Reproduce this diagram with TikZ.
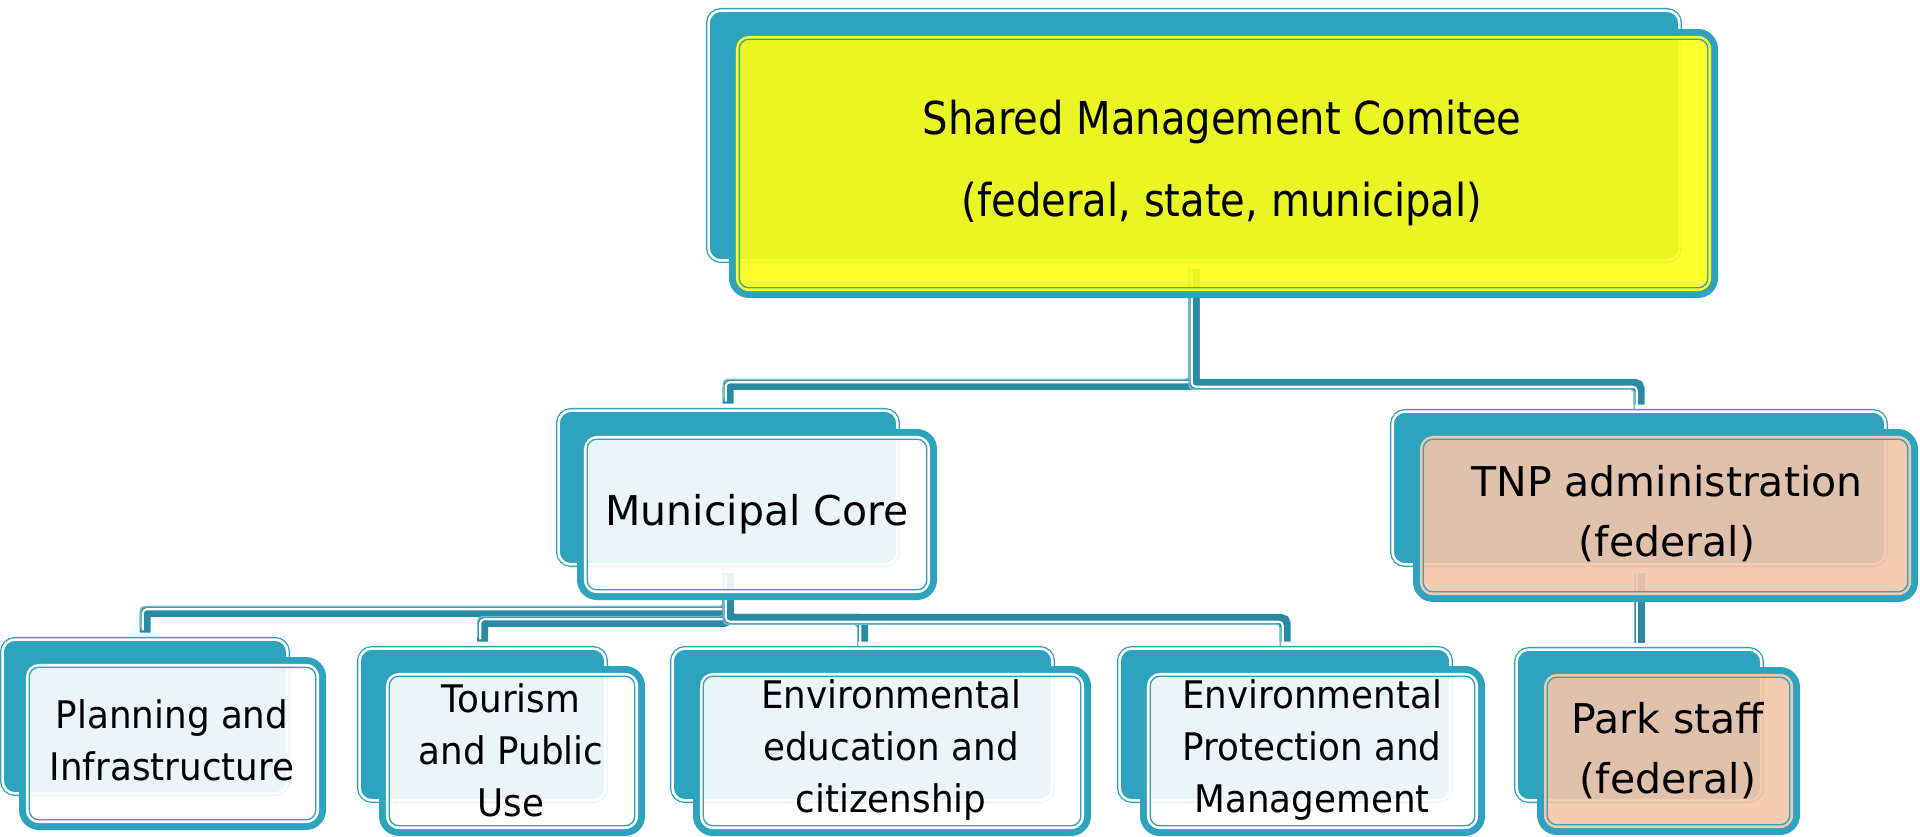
\documentclass[tikz,border=0pt]{standalone}
\usepackage{fontspec}
\setmainfont{DejaVu Sans}
\newfontfamily\titlefont[FakeStretch=0.885]{DejaVu Sans}
\newfontfamily\leaffont[FakeStretch=0.94]{DejaVu Sans}

\definecolor{boxteal}{RGB}{46,163,192}
\definecolor{linkteal}{RGB}{40,138,163}
\definecolor{linkedge}{RGB}{110,188,208}
\definecolor{topfill}{RGB}{255,255,20}
\definecolor{corefill}{RGB}{255,255,255}
\definecolor{fedfill}{RGB}{244,198,170}

% back card of a unit: teal card with a thin white inner rim
\newcommand\backunit[5]{%
  \node[backbox, minimum width={(#4-#2-5.1)*0.75pt}, minimum height={(#5-#3-5.1)*0.75pt}]
    (#1) at ({(#2+#4)/2},{(#3+#5)/2}) {};}

% front card: translucent face, thick teal frame, light rim, thin teal line
\newcommand\frontframe[5]{%
  \fill[#5, fill opacity=0.9, rounded corners=9pt] ({#1+8},{#2+8}) rectangle ({#3-8},{#4-8});
  \draw[boxteal, line width=5.25pt, rounded corners=12.4pt] ({#1+3.5},{#2+3.5}) rectangle ({#3-3.5},{#4-3.5});
  \draw[#5, line width=1.9pt, rounded corners=8.8pt] ({#1+8.25},{#2+8.25}) rectangle ({#3-8.25},{#4-8.25});
  \draw[boxteal, line width=1pt, rounded corners=7.3pt] ({#1+10.2},{#2+10.2}) rectangle ({#3-10.2},{#4-10.2});}

% elbow connector: teal band with an offset white highlight and light edge
\newcommand\link[3]{%
  \draw[linkbase] #1;
  \draw[linkhi, transform canvas={shift={({2.25*(#2)},{2.25*(#3)})}}] #1;
  \draw[linkrim, transform canvas={shift={({4.75*(#2)},{4.75*(#3)})}}] #1;}

\begin{document}
\begin{tikzpicture}[x=0.75pt,y=-0.75pt,
  backbox/.style={fill=boxteal, draw=boxteal, double=white, line width=1pt,
    double distance=1.9pt, rounded corners=9.4pt, inner sep=0pt, outer sep=0pt},
  linkcommon/.style={shorten <=6.5pt, shorten >=5.25pt, rounded corners=3pt},
  linkbase/.style={linkcommon, draw=linkteal, line width=8.25pt},
  linkhi/.style={linkcommon, draw=white, line width=1.6pt},
  linkrim/.style={linkcommon, draw=linkedge, line width=1.1pt},
  unittext/.style={align=center, text=black, inner sep=0pt},
  bigtext/.style={unittext, font=\titlefont\fontsize{34pt}{61.5pt}\selectfont},
  midtext/.style={unittext, font=\fontsize{30.75pt}{45pt}\selectfont},
  leaftext/.style={unittext, font=\leaffont\fontsize{28.5pt}{39pt}\selectfont}]

\useasboundingbox (0,0) rectangle (1920,836);

% back cards
\backunit{topB}{706}{8}{1682}{263}
\backunit{munB}{556}{408}{900}{567}
\backunit{tnpB}{1390}{409}{1888}{567}
\backunit{parkB}{1514}{647}{1764}{803}
\backunit{planB}{0}{637}{290}{796}
\backunit{tourB}{357}{646}{608}{803}
\backunit{eduB}{670}{646}{1055}{803}
\backunit{protB}{1117}{646}{1453}{803}

% hierarchy connectors
\link{(topB.south) -- ++(0,124) -| (munB.north)}{-1}{-1}
\link{(topB.south) -- ++(0,124) -| (tnpB.north)}{-1}{1}
\link{(munB.south) -- ++(0,47) -| (planB.north)}{-1}{-1}
\link{(munB.south) -- ++(0,57) -| (tourB.north)}{-1}{-1}
\link{(munB.south) -- ++(0,55) -| (eduB.north)}{-1}{1}
\link{(munB.south) -- ++(0,55) -| (protB.north)}{-1}{1}
\link{(tnpB.south) -- (parkB.north)}{-1}{0}

% front cards and their labels
\frontframe{729}{29}{1718}{298}{topfill}
\node[bigtext] (top) at (1222,163) {Shared Management Comitee\\(federal, state, municipal)};

\frontframe{577}{429}{937}{600}{corefill}
\node[midtext] (mun) at (757,514) {Municipal Core};

\frontframe{1413}{429}{1918}{602}{fedfill}
\node[midtext] (tnp) at (1667,514) {TNP administration\\(federal)};

\frontframe{1537}{667}{1800}{835}{fedfill}
\node[midtext] (park) at (1668,751) {Park staff\\(federal)};

\frontframe{19}{657}{326}{830}{corefill}
\node[leaftext] (plan) at (172,740) {Planning and\\Infrastructure};

\frontframe{379}{666}{645}{836}{corefill}
\node[leaftext] (tour) at (511,750) {Tourism\\and Public\\Use};

\frontframe{693}{666}{1091}{836}{corefill}
\node[leaftext] (edu) at (891,750) {Environmental\\education and\\citizenship};

\frontframe{1140}{666}{1485}{836}{corefill}
\node[leaftext] (prot) at (1312,750) {Environmental\\Protection and\\Management};

\end{tikzpicture}
\end{document}
